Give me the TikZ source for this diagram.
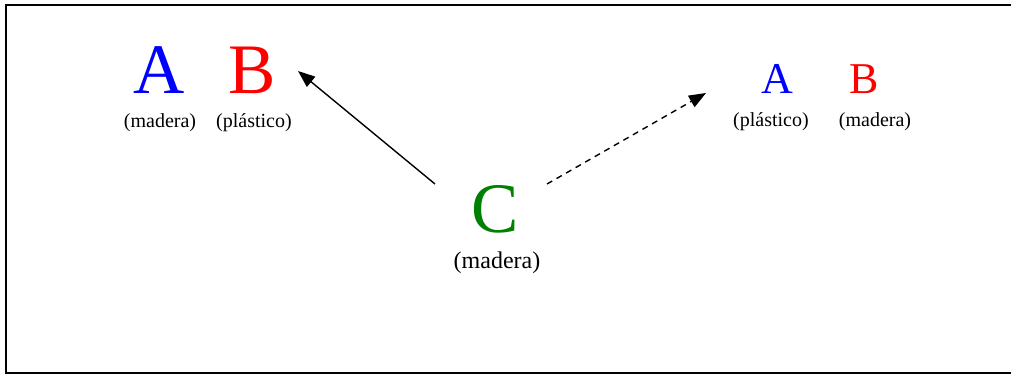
\documentclass[tikz,border=0pt]{standalone}
\usepackage{fontspec}
\setmainfont{Liberation Serif}
\usetikzlibrary{arrows.meta}
\newcommand{\fs}[1]{\fontsize{#1}{#1}\selectfont}
\tikzset{
	big/.style = {inner sep=0, anchor=base, font=\fs{71}},
	mid/.style = {inner sep=0, anchor=base, font=\fs{44}},
	lbl/.style = {inner sep=0, anchor=base, font=\fs{20}},
	arr/.style = {line width=1.4pt, -{Triangle[length=17pt,width=13pt]}}
}
\begin{document}
\begin{tikzpicture}[x=1pt,y=-1pt]
	\useasboundingbox (0,0) rectangle (1011,375);
	\draw[line width=1.5pt] (1012,5) -- (6,5) -- (6,373) -- (1012,373);
	\node[big, blue] (a1) at (159,93) {A};
	\node[big, red]  (b1) at (252,93) {B};
	\node[lbl] (a1m) at (160,127) {(madera)};
	\node[lbl] (b1m) at (254,127) {(plástico)};
	\node[big, green!50!black] (c) at (495,232) {C};
	\node[lbl, font=\fs{24}] (cm) at (497,268) {(madera)};
	\node[mid, blue] (a2) at (777,93) {A};
	\node[mid, red]  (b2) at (864,93) {B};
	\node[lbl] (a2m) at (771,126) {(plástico)};
	\node[lbl] (b2m) at (875,126) {(madera)};
	\coordinate (s1) at (435,184);
	\coordinate (t1) at (298,71);
	\coordinate (s2) at (547,184);
	\coordinate (t2) at (706,93);
	\draw[arr] (s1) -- (t1);
	\draw[arr, dash pattern=on 6pt off 5pt] (s2) -- (t2);
\end{tikzpicture}
\end{document}
